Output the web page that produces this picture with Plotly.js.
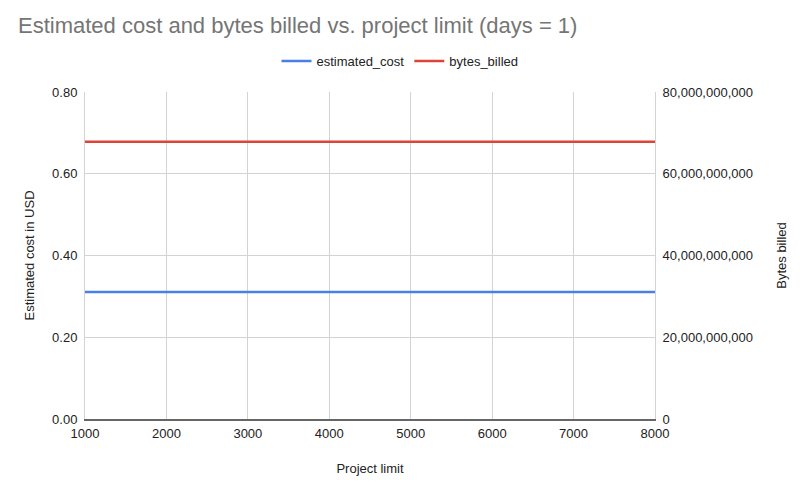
<!DOCTYPE html>
<html>
<head>
<meta charset="utf-8">
<script src="https://cdn.plot.ly/plotly-3.0.1.min.js"></script>
<style>
  html, body { margin: 0; padding: 0; background: #fff; }
  #chart { width: 800px; height: 483px; }
</style>
</head>
<body>
<div id="chart"></div>
<script>
// chart values
const projectLimits = [1000, 2000, 3000, 4000, 5000, 6000, 7000, 8000];
const estimatedCost = [0.311, 0.311, 0.311, 0.311, 0.311, 0.311, 0.311, 0.311];
const bytesBilled = [67800000000, 67800000000, 67800000000, 67800000000,
                     67800000000, 67800000000, 67800000000, 67800000000];

const fontFamily = '"Liberation Sans", Arial, sans-serif';
const gridColor = '#d3d3d3';

const traces = [
  {
    x: projectLimits,
    y: estimatedCost,
    type: 'scatter',
    mode: 'lines',
    name: 'estimated_cost',
    line: { color: '#4a7fe8', width: 2.5 },
    yaxis: 'y'
  },
  {
    x: projectLimits,
    y: bytesBilled,
    type: 'scatter',
    mode: 'lines',
    name: 'bytes_billed',
    line: { color: '#db4437', width: 2.5 },
    yaxis: 'y2'
  }
];

const layout = {
  width: 800,
  height: 483,
  font: { family: fontFamily, size: 13, color: '#222' },
  paper_bgcolor: '#fff',
  plot_bgcolor: '#fff',
  margin: { l: 85, r: 145, t: 92, b: 64 },
  title: {
    text: 'Estimated cost and bytes billed vs. project limit (days = 1)',
    font: { family: fontFamily, size: 22, color: '#757575' },
    xref: 'container', yref: 'container',
    x: 18 / 800, xanchor: 'left',
    y: 1 - 25 / 483, yanchor: 'middle'
  },
  showlegend: true,
  legend: {
    orientation: 'h',
    x: (400 - 85) / 570, xanchor: 'center',
    y: 1 + (92 - 61) / 327, yanchor: 'middle',
    font: { size: 13, color: '#222' },
    itemwidth: 30
  },
  xaxis: {
    range: [1000, 8000],
    dtick: 1000,
    tick0: 1000,
    showgrid: true,
    gridcolor: gridColor,
    gridwidth: 1,
    zeroline: false,
    showline: true,
    linecolor: '#666',
    linewidth: 1.5,
    ticks: '',
    ticklabelstandoff: 2,
    tickfont: { size: 13, color: '#222' },
    title: { text: 'Project limit', font: { size: 13, color: '#222' }, standoff: 24 },
    fixedrange: true
  },
  yaxis: {
    range: [0, 0.8],
    dtick: 0.2,
    tickformat: '.2f',
    showgrid: true,
    gridcolor: gridColor,
    zeroline: false,
    showline: true,
    linecolor: gridColor,
    linewidth: 1,
    ticks: '',
    ticklabelstandoff: 4,
    tickfont: { size: 13, color: '#222' },
    title: { text: 'Estimated cost in USD', font: { size: 13, color: '#222' }, standoff: 14 }
  },
  yaxis2: {
    overlaying: 'y',
    side: 'right',
    range: [0, 80000000000],
    dtick: 20000000000,
    tickformat: ',d',
    showgrid: false,
    zeroline: false,
    showline: true,
    linecolor: gridColor,
    linewidth: 1,
    ticks: '',
    ticklabelstandoff: 4,
    tickfont: { size: 13, color: '#222' },
    title: { text: 'Bytes billed', font: { size: 13, color: '#222' }, standoff: 24 }
  }
};

Plotly.newPlot('chart', traces, layout, { displayModeBar: false, staticPlot: true });
</script>
</body>
</html>
